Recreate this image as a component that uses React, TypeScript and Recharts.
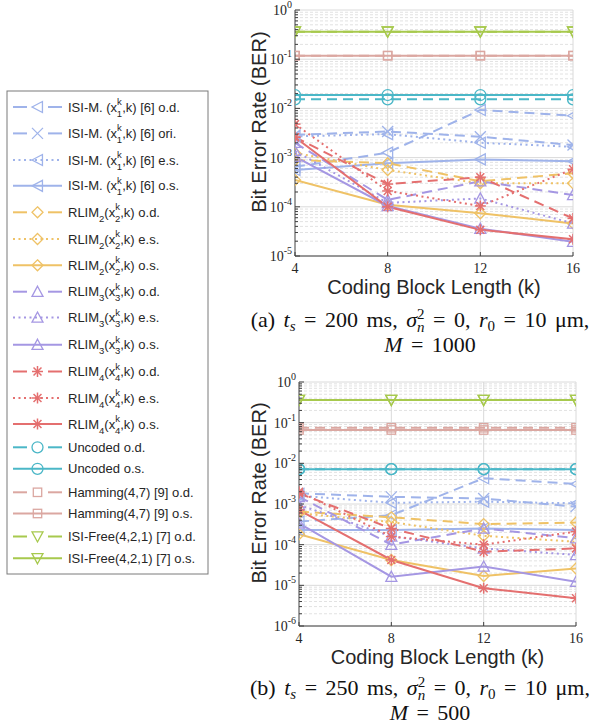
import React from 'react';
import { LineChart, Line, XAxis, YAxis, ReferenceLine } from 'recharts';

// ---------- categories ----------
const blockLengths = [4, 8, 12, 16];

// ---------- panel (a): t_s = 200 ms, M = 1000 ----------
const aIsiOd = [6.5e-4, 1.26e-3, 9.3e-3, 7.1e-3];
const aIsiOri = [2.9e-3, 3.4e-3, 2.66e-3, 1.8e-3];
const aIsiEs = [2.7e-3, 3.0e-3, 2.0e-3, 1.66e-3];
const aIsiOs = [5.6e-4, 7.7e-4, 9.2e-4, 8.4e-4];
const aR2Od = [8.9e-4, 7.7e-4, 3.3e-4, 4.8e-4];
const aR2Es = [1.24e-3, 5.6e-4, 3.0e-4, 3.0e-4];
const aR2Os = [3.5e-4, 1.1e-4, 7.4e-5, 4.6e-5];
const aR3Od = [2.0e-3, 1.38e-4, 3.3e-4, 1.74e-4];
const aR3Es = [1.36e-3, 1.2e-4, 1.48e-4, 4.6e-5];
const aR3Os = [1.05e-3, 1.04e-4, 3.6e-5, 1.95e-5];
const aR4Od = [2.6e-3, 2.9e-4, 4.0e-4, 5.8e-5];
const aR4Es = [4.8e-3, 2.1e-4, 1.04e-4, 5.8e-4];
const aR4Os = [2.6e-3, 1.0e-4, 3.4e-5, 2.2e-5];
const aUncOd = [0.0153, 0.0153, 0.0153, 0.0153];
const aUncOs = [0.0187, 0.0187, 0.0187, 0.0187];
const aHamOd = [0.118, 0.118, 0.118, 0.118];
const aHamOs = [0.118, 0.118, 0.118, 0.118];
const aFreeOd = [0.363, 0.363, 0.363, 0.363];
const aFreeOs = [0.363, 0.363, 0.363, 0.363];

// ---------- panel (b): t_s = 250 ms, M = 500 ----------
const bIsiOd = [3.7e-4, 5.3e-4, 4.3e-3, 3.1e-3];
const bIsiOri = [1.83e-3, 1.5e-3, 1.36e-3, 8.6e-4];
const bIsiEs = [1.6e-3, 1.07e-3, 1.14e-3, 1.04e-3];
const bIsiOs = [2.3e-4, 2.3e-4, 2.5e-4, 2.3e-4];
const bR2Od = [6.5e-4, 4.7e-4, 3.2e-4, 3.5e-4];
const bR2Es = [5.9e-4, 3.6e-4, 1.65e-4, 1.18e-4];
const bR2Os = [1.8e-4, 4.2e-5, 1.7e-5, 2.6e-5];
const bR3Od = [1.5e-3, 1.0e-4, 2.5e-4, 1.44e-4];
const bR3Es = [9.5e-4, 1.6e-4, 8.1e-5, 5.6e-5];
const bR3Os = [3.35e-4, 1.63e-5, 2.9e-5, 1.23e-5];
const bR4Od = [1.83e-3, 2.5e-4, 6.7e-5, 8.1e-5];
const bR4Es = [2.0e-3, 1.58e-4, 1.0e-4, 2.1e-4];
const bR4Os = [7.1e-4, 4.2e-5, 8.5e-6, 4.8e-6];
const bUncOd = [7.2e-3, 7.2e-3, 7.2e-3, 7.2e-3];
const bUncOs = [7.2e-3, 7.2e-3, 7.2e-3, 7.2e-3];
const bHamOd = [0.075, 0.075, 0.075, 0.075];
const bHamOs = [0.066, 0.066, 0.066, 0.066];
const bFreeOd = [0.36, 0.36, 0.36, 0.36];
const bFreeOs = [0.36, 0.36, 0.36, 0.36];

// ---------- tick labels ----------
const yMajorA = [1e-5, 1e-4, 1e-3, 1e-2, 1e-1, 1];
const yMajorB = [1e-6, 1e-5, 1e-4, 1e-3, 1e-2, 1e-1, 1];

// ---------- styles ----------
const C_ISI = '#9fb3ea';
const C_R2 = '#efc266';
const C_R3 = '#a597e3';
const C_R4 = '#e46f6f';
const C_UNC = '#4bb7c7';
const C_HAM = '#dba7a1';
const C_FREE = '#a7c94d';
const DASH = '10 6';
const DOT = '2 3.5';
const FONT_SANS = "'Liberation Sans', Arial, Helvetica, sans-serif";
const FONT_SERIF = "'Liberation Serif', 'Times New Roman', serif";

type Shape = 'left' | 'x' | 'diamond' | 'up' | 'star' | 'circle' | 'square' | 'down';
type Spec = { text: string; lead?: string; mid?: string; sup?: string; sub?: string; tail?: string };
type SeriesStyle = { key: string; color: string; dash?: string; shape: Shape; label: Spec };

const isi = (tail: string): Spec => ({ text: 'ISI-M. (x', sup: 'k', sub: '1', tail: ',k) [6] ' + tail });
const rlim = (n: string, tail: string): Spec => ({ text: 'RLIM', lead: n, mid: '(x', sup: 'k', sub: n, tail: ',k) ' + tail });

const seriesStyles: SeriesStyle[] = [
  { key: 'isiOd', color: C_ISI, dash: DASH, shape: 'left', label: isi('o.d.') },
  { key: 'isiOri', color: C_ISI, dash: DASH, shape: 'x', label: isi('ori.') },
  { key: 'isiEs', color: C_ISI, dash: DOT, shape: 'left', label: isi('e.s.') },
  { key: 'isiOs', color: C_ISI, shape: 'left', label: isi('o.s.') },
  { key: 'r2Od', color: C_R2, dash: DASH, shape: 'diamond', label: rlim('2', 'o.d.') },
  { key: 'r2Es', color: C_R2, dash: DOT, shape: 'diamond', label: rlim('2', 'e.s.') },
  { key: 'r2Os', color: C_R2, shape: 'diamond', label: rlim('2', 'o.s.') },
  { key: 'r3Od', color: C_R3, dash: DASH, shape: 'up', label: rlim('3', 'o.d.') },
  { key: 'r3Es', color: C_R3, dash: DOT, shape: 'up', label: rlim('3', 'e.s.') },
  { key: 'r3Os', color: C_R3, shape: 'up', label: rlim('3', 'o.s.') },
  { key: 'r4Od', color: C_R4, dash: DASH, shape: 'star', label: rlim('4', 'o.d.') },
  { key: 'r4Es', color: C_R4, dash: DOT, shape: 'star', label: rlim('4', 'e.s.') },
  { key: 'r4Os', color: C_R4, shape: 'star', label: rlim('4', 'o.s.') },
  { key: 'uncOd', color: C_UNC, dash: DASH, shape: 'circle', label: { text: 'Uncoded o.d.' } },
  { key: 'uncOs', color: C_UNC, shape: 'circle', label: { text: 'Uncoded o.s.' } },
  { key: 'hamOd', color: C_HAM, dash: DASH, shape: 'square', label: { text: 'Hamming(4,7) [9] o.d.' } },
  { key: 'hamOs', color: C_HAM, shape: 'square', label: { text: 'Hamming(4,7) [9] o.s.' } },
  { key: 'freeOd', color: C_FREE, dash: DASH, shape: 'down', label: { text: 'ISI-Free(4,2,1) [7] o.d.' } },
  { key: 'freeOs', color: C_FREE, shape: 'down', label: { text: 'ISI-Free(4,2,1) [7] o.s.' } },
];

const panelA: Record<string, number[]> = {
  isiOd: aIsiOd, isiOri: aIsiOri, isiEs: aIsiEs, isiOs: aIsiOs,
  r2Od: aR2Od, r2Es: aR2Es, r2Os: aR2Os,
  r3Od: aR3Od, r3Es: aR3Es, r3Os: aR3Os,
  r4Od: aR4Od, r4Es: aR4Es, r4Os: aR4Os,
  uncOd: aUncOd, uncOs: aUncOs, hamOd: aHamOd, hamOs: aHamOs, freeOd: aFreeOd, freeOs: aFreeOs,
};
const panelB: Record<string, number[]> = {
  isiOd: bIsiOd, isiOri: bIsiOri, isiEs: bIsiEs, isiOs: bIsiOs,
  r2Od: bR2Od, r2Es: bR2Es, r2Os: bR2Os,
  r3Od: bR3Od, r3Es: bR3Es, r3Os: bR3Os,
  r4Od: bR4Od, r4Es: bR4Es, r4Os: bR4Os,
  uncOd: bUncOd, uncOs: bUncOs, hamOd: bHamOd, hamOs: bHamOs, freeOd: bFreeOd, freeOs: bFreeOs,
};

const buildRows = (panel: Record<string, number[]>) =>
  blockLengths.map((k, i) => {
    const row: Record<string, number> = { k };
    seriesStyles.forEach((s) => {
      row[s.key] = panel[s.key][i];
    });
    return row;
  });

const minorTicks = (majors: number[]) => {
  const out: number[] = [];
  for (let i = 0; i < majors.length - 1; i++) {
    for (let m = 2; m <= 9; m++) out.push(majors[i] * m);
  }
  return out;
};

// ---------- markers ----------
function Marker({ shape, cx, cy, color }: { shape: Shape; cx: number; cy: number; color: string }) {
  const s = 5.5;
  const p = { fill: 'none', stroke: color, strokeWidth: 1.3 } as const;
  switch (shape) {
    case 'left':
      return <polygon points={`${cx - s},${cy} ${cx + s * 0.9},${cy - s} ${cx + s * 0.9},${cy + s}`} {...p} />;
    case 'x':
      return (
        <g {...p}>
          <line x1={cx - s} y1={cy - s} x2={cx + s} y2={cy + s} />
          <line x1={cx - s} y1={cy + s} x2={cx + s} y2={cy - s} />
        </g>
      );
    case 'diamond':
      return <polygon points={`${cx},${cy - s} ${cx + s},${cy} ${cx},${cy + s} ${cx - s},${cy}`} {...p} />;
    case 'up':
      return <polygon points={`${cx},${cy - s} ${cx + s},${cy + s * 0.85} ${cx - s},${cy + s * 0.85}`} {...p} />;
    case 'down':
      return <polygon points={`${cx},${cy + s} ${cx + s},${cy - s * 0.85} ${cx - s},${cy - s * 0.85}`} {...p} />;
    case 'circle':
      return <circle cx={cx} cy={cy} r={s} {...p} />;
    case 'square':
      return <rect x={cx - 4.2} y={cy - 4.2} width={8.4} height={8.4} {...p} />;
    case 'star': {
      const d = s * 0.72;
      return (
        <g {...p} strokeWidth={1.5}>
          <line x1={cx - s} y1={cy} x2={cx + s} y2={cy} />
          <line x1={cx} y1={cy - s} x2={cx} y2={cy + s} />
          <line x1={cx - d} y1={cy - d} x2={cx + d} y2={cy + d} />
          <line x1={cx - d} y1={cy + d} x2={cx + d} y2={cy - d} />
        </g>
      );
    }
  }
  return null;
}

const makeDot = (shape: Shape, color: string, key: string) => (props: any) => {
  const { cx, cy, index } = props;
  if (cx == null || cy == null || isNaN(cx) || isNaN(cy)) return <g key={`${key}-e-${index}`} />;
  return (
    <g key={`${key}-${index}`}>
      <Marker shape={shape} cx={cx} cy={cy} color={color} />
    </g>
  );
};

// ---------- ticks ----------
const makeYTick = (majors: number[]) => (props: any) => {
  const { x, y, payload } = props;
  const v = payload.value as number;
  const exp = Math.round(Math.log10(v));
  const isMajor = majors.some((m) => Math.abs(m - v) / m < 1e-6);
  return (
    <g>
      <line x1={x} x2={x + (isMajor ? 5 : 3)} y1={y} y2={y} stroke="#404040" strokeWidth={1} />
      {isMajor && (
        <text x={x - 3} y={y + 5} textAnchor="end" fontFamily={FONT_SERIF} fontSize={14} fill="#262626">
          10
          <tspan dy={-7} fontSize={10}>
            {String(exp)}
          </tspan>
        </text>
      )}
    </g>
  );
};

const XTick = (props: any) => {
  const { x, y, payload } = props;
  return (
    <g>
      <line x1={x} x2={x} y1={y} y2={y - 4} stroke="#404040" strokeWidth={1} />
      <text x={x} y={y + 17} textAnchor="middle" fontFamily={FONT_SERIF} fontSize={14} fill="#262626">
        {String(payload.value)}
      </text>
    </g>
  );
};

const XLabel = (props: any) => {
  const vb = props.viewBox || {};
  return (
    <text x={vb.x + vb.width / 2} y={vb.y + 38} textAnchor="middle" fontFamily={FONT_SANS} fontSize={20} fill="#262626">
      Coding Block Length (k)
    </text>
  );
};

const YLabel = (props: any) => {
  const vb = props.viewBox || {};
  const cx = 259;
  const cy = vb.y + vb.height / 2 - 11;
  return (
    <text
      x={cx}
      y={cy}
      transform={`rotate(-90, ${cx}, ${cy})`}
      textAnchor="middle"
      dominantBaseline="central"
      fontFamily={FONT_SANS}
      fontSize={20}
      fill="#262626"
    >
      Bit Error Rate (BER)
    </text>
  );
};

// ---------- panel ----------
function Panel({
  top,
  height,
  axisWidth,
  rightMargin,
  panel,
  majors,
}: {
  top: number;
  height: number;
  axisWidth: number;
  rightMargin: number;
  panel: Record<string, number[]>;
  majors: number[];
}) {
  const rows = buildRows(panel);
  const minors = minorTicks(majors);
  const allTicks = [...majors, ...minors].sort((a, b) => a - b);
  return (
    <div style={{ position: 'absolute', left: 0, top, width: 606, height }}>
      <LineChart width={606} height={height} data={rows} margin={{ top: 10, right: rightMargin, bottom: 0, left: 0 }}>
        <XAxis
          dataKey="k"
          type="number"
          domain={[4, 16]}
          ticks={blockLengths}
          interval={0}
          allowDataOverflow
          height={44}
          tickSize={0}
          tickMargin={0}
          tickLine={false}
          tick={XTick}
          axisLine={{ stroke: '#404040', strokeWidth: 1 }}
          label={XLabel}
        />
        <YAxis
          type="number"
          scale="log"
          domain={[majors[0], majors[majors.length - 1]]}
          allowDataOverflow
          ticks={allTicks}
          interval={0}
          width={axisWidth}
          tickSize={0}
          tickMargin={0}
          tickLine={false}
          tick={makeYTick(majors)}
          axisLine={{ stroke: '#404040', strokeWidth: 1 }}
          label={YLabel}
        />
        {minors.map((v) => (
          <ReferenceLine key={`mn-${v}`} y={v} stroke="#e2e2e2" strokeWidth={1} strokeDasharray="3 2" />
        ))}
        {majors.map((v) => (
          <ReferenceLine key={`mj-${v}`} y={v} stroke="#dadada" strokeWidth={1} />
        ))}
        {blockLengths.slice(1).map((k) => (
          <ReferenceLine key={`vx-${k}`} x={k} stroke="#dadada" strokeWidth={1} />
        ))}
        {seriesStyles.map((s) => (
          <Line
            key={s.key}
            type="linear"
            dataKey={s.key}
            stroke={s.color}
            strokeWidth={2}
            strokeDasharray={s.dash}
            dot={makeDot(s.shape, s.color, s.key)}
            activeDot={false}
            isAnimationActive={false}
          />
        ))}
      </LineChart>
    </div>
  );
}

// ---------- legend ----------
const legendRowY = [107, 133.4, 160, 185.8, 212.3, 239, 265.3, 291.7, 317.5, 344.7, 371.5, 398, 424, 447.3, 468.8, 492.3, 513.5, 536.5, 558.3];

function LegendText({ spec, y }: { spec: Spec; y: number }) {
  return (
    <text x={68} y={y + 4.5} fontFamily={FONT_SANS} fontSize={13} fill="#262626">
      {spec.text}
      {spec.lead && (
        <tspan dy={5} fontSize={9.5}>
          {spec.lead}
        </tspan>
      )}
      {spec.lead && <tspan dy={-5}>{spec.mid}</tspan>}
      {spec.sup && (
        <tspan dy={-6.5} fontSize={9.5}>
          {spec.sup}
        </tspan>
      )}
      {spec.sup && (
        <tspan dx={-5} dy={11.5} fontSize={9.5}>
          {spec.sub}
        </tspan>
      )}
      {spec.sup && <tspan dy={-5}>{spec.tail}</tspan>}
    </text>
  );
}

function LegendSample({ s, y }: { s: SeriesStyle; y: number }) {
  const lineProps = { stroke: s.color, strokeWidth: 2 };
  return (
    <g>
      {s.dash === DASH ? (
        <>
          <line x1={13} x2={27} y1={y} y2={y} {...lineProps} />
          <line x1={48} x2={62} y1={y} y2={y} {...lineProps} />
        </>
      ) : (
        <line x1={13} x2={62} y1={y} y2={y} {...lineProps} strokeDasharray={s.dash} />
      )}
      <Marker shape={s.shape} cx={37.5} cy={y} color={s.color} />
    </g>
  );
}

function CaptionLine1({ tag, ts, y }: { tag: string; ts: string; y: number }) {
  return (
    <text x={420} y={y} textAnchor="middle" wordSpacing={3}>
      {`(${tag}) `}
      <tspan fontStyle="italic">t</tspan>
      <tspan fontSize={15} dy={4} fontStyle="italic">s</tspan>
      <tspan dy={-4}>{` = ${ts} ms, `}</tspan>
      <tspan fontStyle="italic">σ</tspan>
      <tspan fontSize={15} dy={-8}>2</tspan>
      <tspan fontSize={15} dx={-7.5} dy={13} fontStyle="italic">n</tspan>
      <tspan dy={-5}>{' = 0, '}</tspan>
      <tspan fontStyle="italic">r</tspan>
      <tspan fontSize={15} dy={4}>0</tspan>
      <tspan dy={-4}>{' = 10 μm,'}</tspan>
    </text>
  );
}

export default function App() {
  return (
    <div style={{ position: 'absolute', left: 0, top: 0, width: 606, height: 725, background: '#fff', overflow: 'hidden' }}>
      <Panel top={0} height={300} axisWidth={295} rightMargin={33} panel={panelA} majors={yMajorA} />
      <Panel top={372} height={298} axisWidth={299} rightMargin={30} panel={panelB} majors={yMajorB} />
      <svg width={606} height={725} style={{ position: 'absolute', left: 0, top: 0, pointerEvents: 'none' }}>
        <rect x={7} y={91} width={201} height={483} fill="#fff" stroke="#7a7a7a" strokeWidth={1} />
        {seriesStyles.map((s, i) => (
          <g key={`lg-${s.key}`}>
            <LegendSample s={s} y={legendRowY[i]} />
            <LegendText spec={s.label} y={legendRowY[i]} />
          </g>
        ))}
        <g fontFamily={FONT_SERIF} fontSize={22} fill="#111">
          <CaptionLine1 tag="a" ts="200" y={327} />
          <text x={430} y={352} textAnchor="middle" wordSpacing={3}>
            <tspan fontStyle="italic">M</tspan>
            {' = 1000'}
          </text>
          <CaptionLine1 tag="b" ts="250" y={695} />
          <text x={430} y={720} textAnchor="middle" wordSpacing={3}>
            <tspan fontStyle="italic">M</tspan>
            {' = 500'}
          </text>
        </g>
      </svg>
    </div>
  );
}
